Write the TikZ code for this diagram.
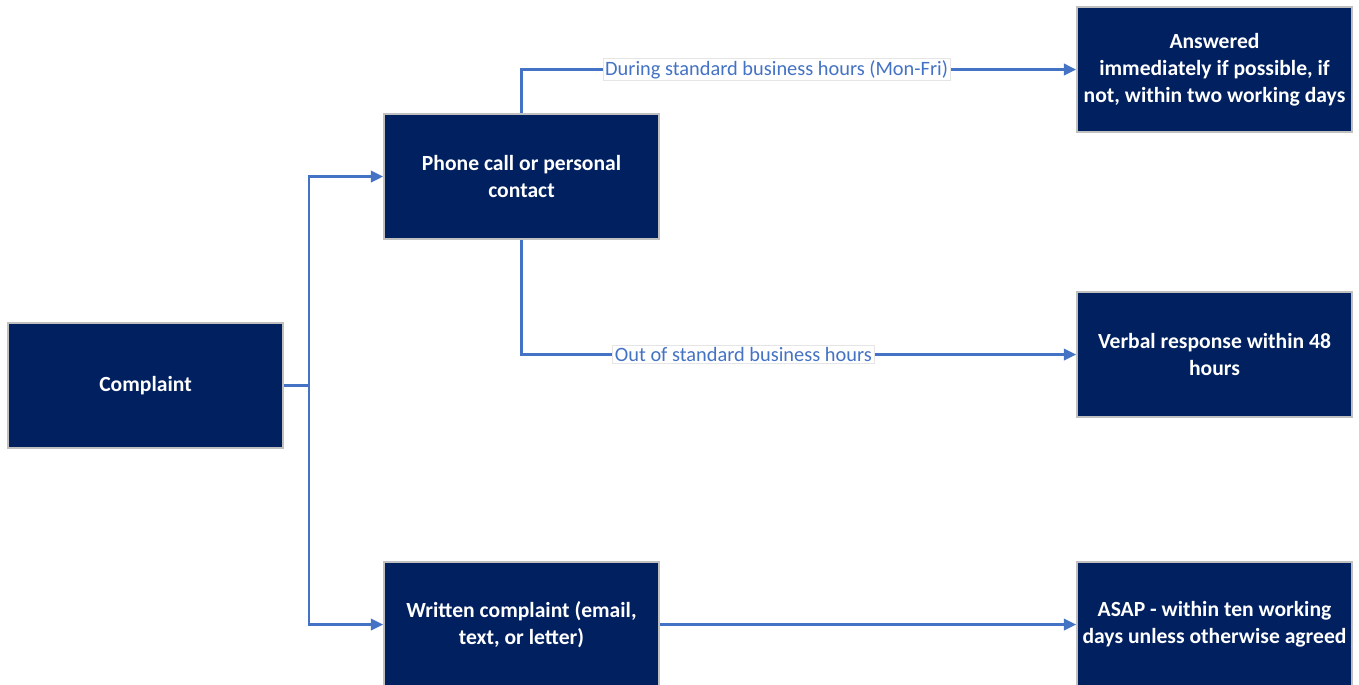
\documentclass[tikz,border=0pt]{standalone}
\usepackage{fontspec}
\setmainfont{Carlito}
\usetikzlibrary{arrows.meta}

\definecolor{navy}{HTML}{002060}
\definecolor{linkblue}{HTML}{4472C4}
\definecolor{rimgray}{HTML}{C0C0C0}

\tikzset{
    stage/.style={draw=rimgray, line width=1pt, fill=navy, text=white,
        minimum width=5.5cm, minimum height=2.5cm, align=center,
        font=\fontsize{12.3}{15.3}\selectfont\bfseries, inner sep=0pt},
    conn/.style={draw=linkblue, line width=1.4pt,
        -{Triangle[length=7pt, width=6.5pt]}},
    lbl/.style={fill=white, draw=gray!20, line width=0.4pt, text=linkblue,
        font=\fontsize{11.6}{13}\selectfont, inner sep=1.2pt}
}

\begin{document}
\begin{tikzpicture}[x=0.02cm, y=-0.02cm]
    % Page frame (pixel units, y downwards)
    \useasboundingbox (0, 0) rectangle (1359, 684);

    % Boxes
    \node[stage] (complaint) at (145.5, 385.5) {Complaint};
    \node[stage] (phone)     at (521.5, 176.5) {Phone call or personal\\contact};
    \node[stage] (written)   at (521.5, 624.5) {Written complaint (email,\\text, or letter)};

    \node[stage] (answered)  at (1214.5, 69.5)  {Answered\\immediately if possible, if\\not, within two working days};
    \node[stage] (verbal)    at (1214.5, 354.5) {Verbal response within 48\\hours};
    \node[stage] (asap)      at (1214.5, 624.5) {ASAP - within ten working\\days unless otherwise agreed};

    % Split from the complaint
    \draw[linkblue, line width=1.4pt] (complaint.east) -- (309, 385.5) coordinate (split);
    \draw[conn] (split) |- (phone.west);
    \draw[conn] (split) |- (written.west);

    % Phone branches
    \draw[conn] (phone.north) |- node[lbl, pos=0.73] {During standard business hours (Mon-Fri)} (answered.west);
    \draw[conn] (phone.south) |- node[lbl, pos=0.70] {Out of standard business hours} (verbal.west);

    % Written branch
    \draw[conn] (written.east) -- (asap.west);
\end{tikzpicture}
\end{document}
